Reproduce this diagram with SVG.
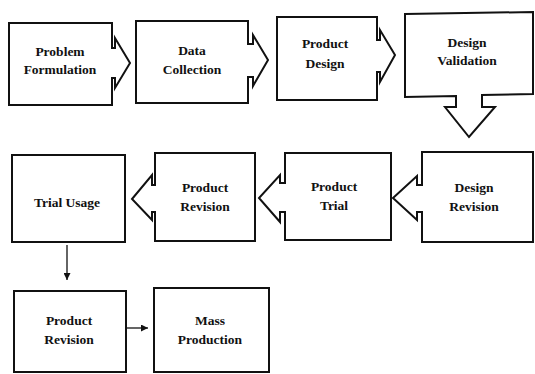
<svg xmlns="http://www.w3.org/2000/svg" width="535" height="374" viewBox="0 0 535 374">
<style>
.s{fill:#fff;stroke:#111;stroke-width:2;stroke-linejoin:miter}
.t{font-family:'Liberation Serif','DejaVu Serif',serif;font-weight:bold;font-size:13.5px;fill:#111;text-anchor:middle}
.c{stroke:#111;stroke-width:1.3;fill:none}
</style>
<defs>
<marker id="ah" viewBox="0 0 10 10" refX="10" refY="5" markerWidth="7" markerHeight="7" markerUnits="userSpaceOnUse" orient="auto">
<path d="M0,0 L10,5 L0,10 z" fill="#111"/>
</marker>
</defs>
<rect width="535" height="374" fill="#fff"/>
<g id="n1">
<path class="s" d="M9,23 L112,23 L112,48 L115,48 L115,38 L130,63 L115,88 L115,78 L112,78 L112,105 L9,105 Z"/>
<text class="t" x="60" y="56">Problem</text>
<text class="t" x="60" y="74">Formulation</text>
</g>
<g id="n2">
<path class="s" d="M136,21 L248,21 L248,44 L253,44 L253,35 L268,60 L253,86 L253,77 L248,77 L248,103 L136,103 Z"/>
<text class="t" x="192" y="55">Data</text>
<text class="t" x="192" y="74">Collection</text>
</g>
<g id="n3">
<path class="s" d="M277,17 L377,17 L377,40 L380,40 L380,30 L395,55 L380,82 L380,72 L377,72 L377,100 L277,100 Z"/>
<text class="t" x="325" y="48">Product</text>
<text class="t" x="325" y="68">Design</text>
</g>
<g id="n4">
<path class="s" d="M405,14 L533,12 L533,94 L482,95 L482,107 L495,107 L469,137 L445,107 L456,107 L456,96 L405,97 Z"/>
<text class="t" x="467" y="47">Design</text>
<text class="t" x="467" y="65">Validation</text>
</g>
<g id="n5">
<path class="s" d="M422,152 L533,152 L533,242 L422,242 L422,212 L417,212 L417,220 L393,198 L417,176 L417,185 L422,185 Z"/>
<text class="t" x="474" y="192">Design</text>
<text class="t" x="474" y="211">Revision</text>
</g>
<g id="n6">
<path class="s" d="M285,153 L391,153 L391,240 L285,240 L285,212 L280,212 L280,222 L259,198 L280,175 L280,183 L285,183 Z"/>
<text class="t" x="334" y="191">Product</text>
<text class="t" x="334" y="210">Trial</text>
</g>
<g id="n7">
<path class="s" d="M155,153 L255,153 L255,241 L155,241 L155,212 L152,212 L152,220 L132,199 L152,175 L152,185 L155,185 Z"/>
<text class="t" x="205" y="192">Product</text>
<text class="t" x="205" y="211">Revision</text>
</g>
<g id="n8">
<rect class="s" x="12" y="155" width="113" height="87"/>
<text class="t" x="67" y="207">Trial Usage</text>
</g>
<g id="n9">
<rect class="s" x="14" y="291" width="112" height="81"/>
<text class="t" x="69" y="325">Product</text>
<text class="t" x="69" y="344">Revision</text>
</g>
<g id="n10">
<rect class="s" x="154" y="288" width="115" height="84"/>
<text class="t" x="210" y="325">Mass</text>
<text class="t" x="210" y="344">Production</text>
</g>
<g id="connectors">
<line class="c" x1="67" y1="245" x2="67" y2="280" marker-end="url(#ah)"/>
<line class="c" x1="127" y1="328" x2="148" y2="328" marker-end="url(#ah)"/>
</g>
</svg>
